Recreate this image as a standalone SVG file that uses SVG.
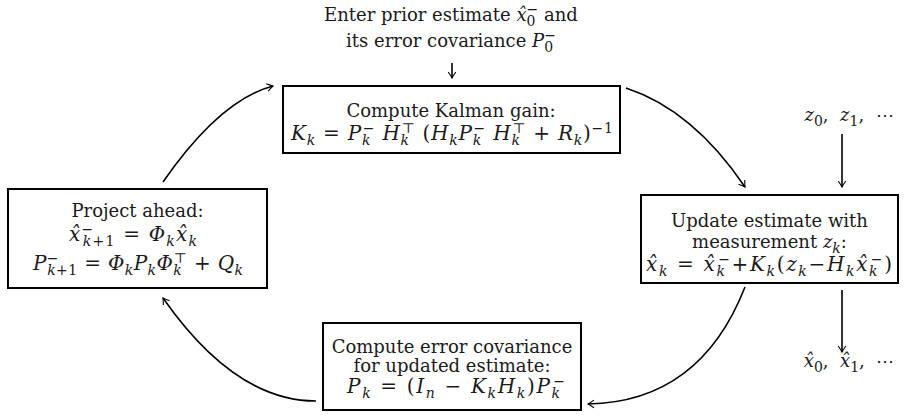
<svg xmlns="http://www.w3.org/2000/svg" width="906" height="415" viewBox="0 0 906 415">
<defs>
<style>
.t{font-family:"DejaVu Serif","Liberation Serif",serif;font-size:18px;fill:#1a1a1a}
.m{font-size:20px}
.i{font-style:italic}
.s{font-size:14px}
.box{fill:#fff;stroke:#000;stroke-width:2}
.c{fill:none;stroke:#000;stroke-width:1.6}
</style>
<marker id="ah" viewBox="-8 -5 10 10" refX="0" refY="0" markerWidth="10" markerHeight="10" markerUnits="userSpaceOnUse" orient="auto">
<path d="M-6,-3.8 Q-2,-1 0,0 Q-2,1 -6,3.8" fill="none" stroke="#000" stroke-width="1.1"/>
</marker>
</defs>
<rect width="906" height="415" fill="#fff"/>

<g id="start">
<text class="t" x="451" y="21" text-anchor="middle"><tspan>Enter prior estimate </tspan><tspan class="i">x&#x302;</tspan><tspan class="s" dy="5">0</tspan><tspan class="s" dx="-8.9" dy="-12">−</tspan><tspan dy="7"> and</tspan></text>
<text class="t" x="451" y="47" text-anchor="middle"><tspan>its error covariance </tspan><tspan class="i">P</tspan><tspan class="s" dy="5">0</tspan><tspan class="s" dx="-8.9" dy="-12">−</tspan></text>
</g>

<g id="kalman">
<rect class="box" x="283" y="86" width="337" height="67"/>
<text class="t" x="451" y="117" text-anchor="middle">Compute Kalman gain:</text>
<text class="t m" x="452" y="140" text-anchor="middle" textLength="322" lengthAdjust="spacing"><tspan class="i">K</tspan><tspan class="s i" dy="5">k</tspan><tspan dy="-5"> = </tspan><tspan class="i">P</tspan><tspan class="s i" dy="5">k</tspan><tspan class="s" dx="-8.4" dy="-12">−</tspan><tspan class="i" dy="7"> H</tspan><tspan class="s i" dy="5">k</tspan><tspan class="s" dx="-8.4" dy="-12">⊤</tspan><tspan dy="7"> (</tspan><tspan class="i">H</tspan><tspan class="s i" dy="5">k</tspan><tspan class="i" dy="-5">P</tspan><tspan class="s i" dy="5">k</tspan><tspan class="s" dx="-8.4" dy="-12">−</tspan><tspan class="i" dy="7"> H</tspan><tspan class="s i" dy="5">k</tspan><tspan class="s" dx="-8.4" dy="-12">⊤</tspan><tspan dy="7"> + </tspan><tspan class="i">R</tspan><tspan class="s i" dy="5">k</tspan><tspan dy="-5">)</tspan><tspan class="s" dy="-7">−1</tspan></text>
</g>

<g id="project">
<rect class="box" x="8" y="189" width="259" height="99"/>
<text class="t" x="137.5" y="217" text-anchor="middle">Project ahead:</text>
<text class="t m" x="133" y="241" text-anchor="middle" textLength="128" lengthAdjust="spacing"><tspan class="i">x&#x302;</tspan><tspan class="s" dy="-7">−</tspan><tspan class="s" dx="-11.7" dy="12"><tspan class="i">k</tspan>+1</tspan><tspan dy="-5"> = </tspan><tspan class="i">Φ</tspan><tspan class="s i" dy="5">k</tspan><tspan class="i" dy="-5">x&#x302;</tspan><tspan class="s i" dy="5">k</tspan></text>
<text class="t m" x="138" y="270" text-anchor="middle" textLength="210" lengthAdjust="spacing"><tspan class="i">P</tspan><tspan class="s" dy="-7">−</tspan><tspan class="s" dx="-11.7" dy="12"><tspan class="i">k</tspan>+1</tspan><tspan dy="-5"> = </tspan><tspan class="i">Φ</tspan><tspan class="s i" dy="5">k</tspan><tspan class="i" dy="-5">P</tspan><tspan class="s i" dy="5">k</tspan><tspan class="i" dy="-5">Φ</tspan><tspan class="s i" dy="5">k</tspan><tspan class="s" dx="-8.4" dy="-12">⊤</tspan><tspan dy="7"> + </tspan><tspan class="i">Q</tspan><tspan class="s i" dy="5">k</tspan></text>
</g>

<g id="update">
<rect class="box" x="641" y="195" width="257" height="88"/>
<text class="t" x="769.5" y="227" text-anchor="middle">Update estimate with</text>
<text class="t" x="769.5" y="248" text-anchor="middle"><tspan>measurement </tspan><tspan class="i">z</tspan><tspan class="s i" dy="5">k</tspan><tspan dy="-5">:</tspan></text>
<text class="t m" x="769" y="271" text-anchor="middle" textLength="246" lengthAdjust="spacing"><tspan class="i">x&#x302;</tspan><tspan class="s i" dy="5">k</tspan><tspan dy="-5"> = </tspan><tspan class="i">x&#x302;</tspan><tspan class="s i" dy="5">k</tspan><tspan class="s" dx="-8.4" dy="-12">−</tspan><tspan dy="7">+</tspan><tspan class="i">K</tspan><tspan class="s i" dy="5">k</tspan><tspan dy="-5">(</tspan><tspan class="i">z</tspan><tspan class="s i" dy="5">k</tspan><tspan dy="-5">−</tspan><tspan class="i">H</tspan><tspan class="s i" dy="5">k</tspan><tspan class="i" dy="-5">x&#x302;</tspan><tspan class="s i" dy="5">k</tspan><tspan class="s" dx="-8.4" dy="-12">−</tspan><tspan dy="7">)</tspan></text>
</g>

<g id="covariance">
<rect class="box" x="323" y="323" width="258" height="87"/>
<text class="t" x="452" y="353" text-anchor="middle">Compute error covariance</text>
<text class="t" x="452" y="372" text-anchor="middle">for updated estimate:</text>
<text class="t m" x="456" y="393" text-anchor="middle" textLength="218" lengthAdjust="spacing"><tspan class="i">P</tspan><tspan class="s i" dy="5">k</tspan><tspan dy="-5"> = (</tspan><tspan class="i">I</tspan><tspan class="s i" dy="5">n</tspan><tspan dy="-5"> − </tspan><tspan class="i">K</tspan><tspan class="s i" dy="5">k</tspan><tspan class="i" dy="-5">H</tspan><tspan class="s i" dy="5">k</tspan><tspan dy="-5">)</tspan><tspan class="i">P</tspan><tspan class="s i" dy="5">k</tspan><tspan class="s" dx="-8.4" dy="-12">−</tspan></text>
</g>

<g id="measurements">
<text class="t" x="849" y="121" text-anchor="middle"><tspan class="i">z</tspan><tspan class="s" dy="5">0</tspan><tspan dy="-5">,&#160;&#160;</tspan><tspan class="i">z</tspan><tspan class="s" dy="5">1</tspan><tspan dy="-5">,&#160;&#160;⋯</tspan></text>
</g>

<g id="estimates">
<text class="t" x="849" y="367" text-anchor="middle"><tspan class="i">x&#x302;</tspan><tspan class="s" dy="5">0</tspan><tspan dy="-5">,&#160;&#160;</tspan><tspan class="i">x&#x302;</tspan><tspan class="s" dy="5">1</tspan><tspan dy="-5">,&#160;&#160;⋯</tspan></text>
</g>

<g id="connectors">
<path class="c" d="M452,63 L452,78" stroke-width="2" marker-end="url(#ah)"/>
<path class="c" d="M163,182 Q220,100 273,86" marker-end="url(#ah)"/>
<path class="c" d="M626,88 Q693,110 745,187" marker-end="url(#ah)"/>
<path class="c" d="M745,287 Q700,402 588,404" marker-end="url(#ah)"/>
<path class="c" d="M316,401 Q235,401 163,298" marker-end="url(#ah)"/>
<path class="c" d="M842,134 L842,187" marker-end="url(#ah)"/>
<path class="c" d="M842,290 L842,352" marker-end="url(#ah)"/>
</g>
</svg>
